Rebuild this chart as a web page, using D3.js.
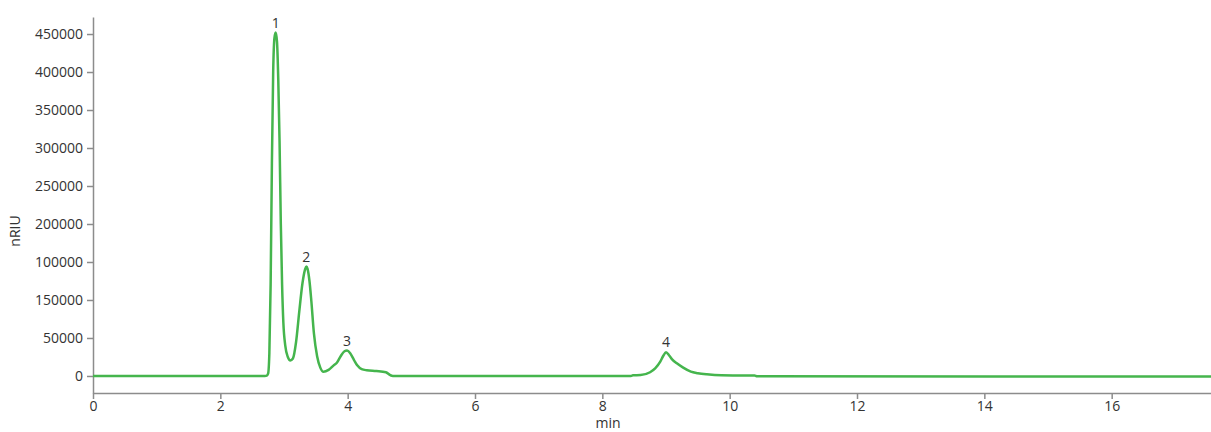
<!DOCTYPE html>
<html>
<head>
<meta charset="utf-8">
<script src="https://cdn.jsdelivr.net/npm/d3@7"></script>
<style>
  html, body { margin: 0; padding: 0; background: #fff; }
  svg { display: block; font-family: "Open Sans", "Noto Sans", sans-serif; }
</style>
</head>
<body>
<svg id="chart" width="1211" height="432"></svg>
<script>
// Retention time (min)
const times = [
  0, 2.70, 2.73, 2.75, 2.77, 2.79, 2.81, 2.83, 2.85, 2.87, 2.89, 2.91, 2.93, 2.95, 2.97, 2.99,
  3.02, 3.06, 3.10, 3.14, 3.19, 3.24, 3.29, 3.33, 3.35, 3.37, 3.40, 3.43, 3.47, 3.52, 3.57, 3.62,
  3.70, 3.78, 3.83, 3.89, 3.95, 3.99, 4.04, 4.10, 4.15, 4.22, 4.30, 4.45, 4.60, 4.67, 4.71,
  8.45, 8.48, 8.60, 8.75, 8.83, 8.91, 8.96, 9.00, 9.05, 9.10, 9.17, 9.27, 9.39, 9.50, 9.64, 9.87,
  10.20, 10.39, 10.43, 17.6
];
// Signal (nRIU)
const signal = [
  0, 0, 500, 3000, 30000, 120000, 280000, 400000, 445000, 452000, 440000, 390000, 310000, 200000, 120000, 70000,
  40000, 25000, 20500, 23000, 45000, 85000, 122000, 140000, 144000, 141000, 125000, 98000, 56000, 26000, 11000, 5500,
  8000, 14000, 17500, 26000, 32500, 33500, 30000, 21000, 14000, 9000, 7500, 6500, 5000, 1000, 0,
  0, 800, 1200, 4900, 10000, 18800, 27000, 31200, 27000, 21500, 16700, 11000, 5700, 3700, 2200, 900,
  700, 600, -500, -700
];
// Peak annotations
const peakLabels = ["1", "2", "3", "4"];
const peakTimes = [2.87, 3.35, 3.99, 9.00];
const peakValues = [452000, 144000, 33500, 31200];

const xTicks = [0, 2, 4, 6, 8, 10, 12, 14, 16];
const yTicks = [0, 50000, 100000, 150000, 200000, 250000, 300000, 350000, 400000, 450000];
const yTickLabels = ["0", "50000", "150000", "100000", "200000", "250000", "300000", "350000", "400000", "450000"];

const W = 1211, H = 432;
const margin = { top: 17, right: 0, bottom: 39, left: 93 };

const svg = d3.select("#chart");
const x = d3.scaleLinear().domain([0, 17.56]).range([margin.left, W - margin.right]);
const y = d3.scaleLinear().domain([-22400, 472400]).range([H - margin.bottom, margin.top]);

const axisColor = "#8c8c8c";
const textColor = "#333";

// X axis
const gx = svg.append("g")
  .attr("transform", `translate(0,${H - margin.bottom})`)
  .call(d3.axisBottom(x).tickValues(xTicks).tickSize(6).tickPadding(2).tickSizeOuter(0));
// Y axis
const gy = svg.append("g")
  .attr("transform", `translate(${margin.left},0)`)
  .call(d3.axisLeft(y).tickValues(yTicks).tickFormat((d, i) => yTickLabels[i]).tickSize(6).tickPadding(4).tickSizeOuter(0));

[gx, gy].forEach(g => {
  g.select(".domain").attr("stroke", axisColor).attr("stroke-width", 1.5);
  g.selectAll(".tick line").attr("stroke", axisColor).attr("stroke-width", 1.5);
  g.selectAll(".tick text").attr("fill", textColor).style("font-size", "14px").style("font-family", "'Open Sans', sans-serif");
});

// Axis titles
svg.append("text")
  .attr("x", 608)
  .attr("y", 428)
  .attr("text-anchor", "middle")
  .attr("fill", textColor)
  .style("font-size", "14px")
  .text("min");
svg.append("text")
  .attr("transform", `translate(20,${(margin.top + H - margin.bottom) / 2 + 26}) rotate(-90)`)
  .attr("text-anchor", "middle")
  .attr("fill", textColor)
  .style("font-size", "14px")
  .text("nRIU");

// Trace
const data = times.map((t, i) => ({ t, v: signal[i] }));
const line = d3.line().x(d => x(d.t)).y(d => y(d.v)).curve(d3.curveMonotoneX);
svg.append("path")
  .datum(data)
  .attr("fill", "none")
  .attr("stroke", "#45b54d")
  .attr("stroke-width", 2.5)
  .attr("stroke-linejoin", "round")
  .attr("d", line);

// Peak labels
svg.selectAll(".peak")
  .data(peakLabels)
  .enter().append("text")
  .attr("class", "peak")
  .attr("x", (d, i) => x(peakTimes[i]))
  .attr("y", (d, i) => y(peakValues[i]) - 5)
  .attr("text-anchor", "middle")
  .attr("fill", textColor)
  .style("font-size", "14px")
  .text(d => d);
</script>
</body>
</html>
